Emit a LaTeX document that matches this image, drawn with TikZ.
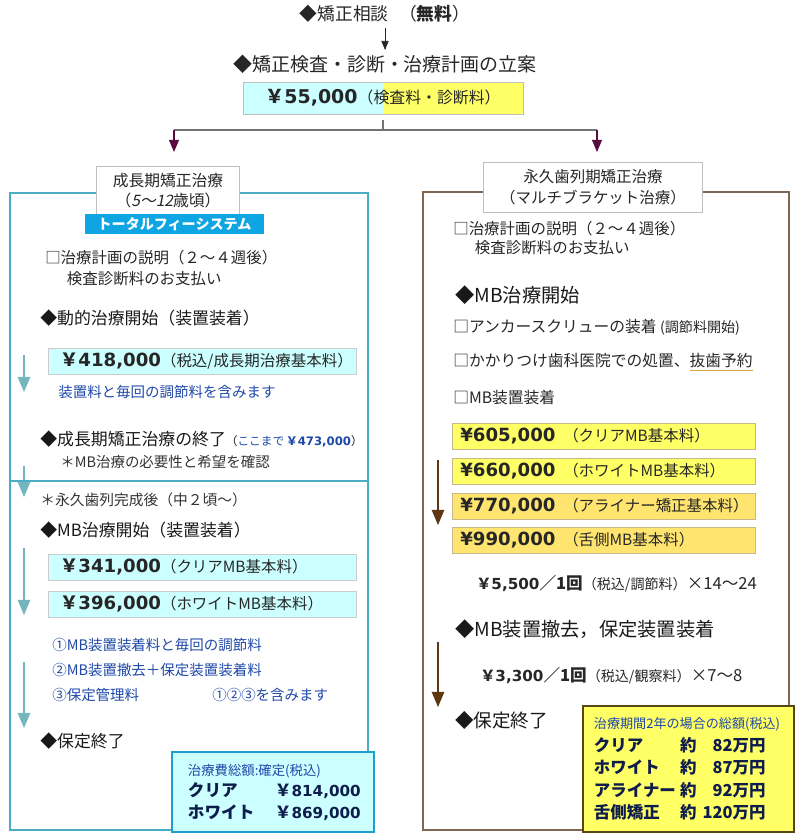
\documentclass[tikz,border=0pt]{standalone}
\usepackage{fontspec}
\setmainfont{Noto Sans CJK JP}[
    ItalicFont={Noto Sans CJK JP},
    ItalicFeatures={FakeSlant=0.2}
]
\newfontfamily\numfont{DejaVu Sans}
\usetikzlibrary{arrows}

\definecolor{feecyan}{HTML}{CCFFFF}
\definecolor{feeyellow}{HTML}{FFFF66}
\definecolor{feegold}{HTML}{FFE570}
\definecolor{skybar}{HTML}{0FA5E2}
\definecolor{leftframe}{HTML}{4BACC6}
\definecolor{leftarrow}{HTML}{74B5BE}
\definecolor{rightframe}{HTML}{7F6752}
\definecolor{rightarrow}{HTML}{5E3612}
\definecolor{plum}{HTML}{5A0C3E}
\definecolor{remarkblue}{HTML}{1F48A8}
\definecolor{sumnavy}{HTML}{0E1D4C}
\definecolor{sumedge}{HTML}{1E9FD0}
\definecolor{sumbrown}{HTML}{5A4614}
\definecolor{boxedge}{HTML}{C8B98A}
\definecolor{wavy}{HTML}{D6A43A}

\newcommand{\yensign}[1][12.9]{{\bfseries\fontsize{#1}{#1}\selectfont ￥}}
\newcommand{\amount}[2][12.9]{{\numfont\bfseries\fontsize{#1}{#1}\selectfont #2}}
\newcommand{\sized}[2]{{\fontsize{#1}{#1}\selectfont #2}}

\tikzstyle{topline} = [
    font=\fontsize{13.5}{16}\selectfont,
    text=black!85
]
\tikzstyle{arrow} = [->, >=triangle 45, draw=black!85]
\tikzstyle{feebox} = [
    rectangle,
    draw=black!25,
    minimum width=7cm,
    minimum height=0.8cm,
    font=\fontsize{11.3}{12}\selectfont,
    text=black!85,
    path picture={
        \fill[feecyan] (path picture bounding box.south west) rectangle (path picture bounding box.north);
        \fill[feeyellow] (path picture bounding box.south) rectangle (path picture bounding box.north east);
    }
]
\tikzstyle{branchline} = [draw=black!55, line width=1pt]
\tikzstyle{plumarrow} = [->, >=triangle 45, draw=plum, line width=1pt]
\tikzstyle{headbox} = [
    rectangle,
    draw=black!25,
    fill=white,
    align=center,
    inner sep=0pt,
    text=black!85
]
\tikzstyle{feebar} = [
    rectangle,
    fill=skybar,
    text=white,
    font=\bfseries\fontsize{10}{12}\selectfont,
    minimum width=4.475cm,
    minimum height=0.5cm,
    inner sep=0pt
]
\tikzstyle{item} = [
    anchor=west,
    inner sep=0pt,
    align=left,
    font=\fontsize{11}{15}\selectfont,
    text=black!85
]
\tikzstyle{milestone} = [
    anchor=west,
    inner sep=0pt,
    font=\fontsize{12}{14}\selectfont,
    text=black!90
]
\tikzstyle{bigmilestone} = [milestone, font=\fontsize{13.7}{16}\selectfont]
\tikzstyle{remark} = [
    anchor=west,
    inner sep=0pt,
    font=\fontsize{10.3}{12}\selectfont,
    text=remarkblue
]
\tikzstyle{aside} = [remark, text=black!80]
\tikzstyle{cyanprice} = [
    rectangle,
    anchor=west,
    draw=black!20,
    fill=feecyan,
    minimum height=0.65cm,
    text width=7.1cm,
    inner xsep=0.3cm,
    inner ysep=0pt,
    font=\fontsize{11}{12}\selectfont,
    text=black!85
]
\tikzstyle{yellowprice} = [cyanprice, draw=boxedge, fill=feeyellow, text width=7.175cm, inner xsep=0.2cm]
\tikzstyle{goldprice} = [yellowprice, fill=feegold]
\tikzstyle{tealarrow} = [->, >=triangle 45, draw=leftarrow, line width=1.5pt]
\tikzstyle{brownarrow} = [->, >=triangle 45, draw=rightarrow, line width=1.5pt]
\tikzstyle{cyansum} = [
    rectangle,
    draw=sumedge,
    line width=1.5pt,
    fill=feecyan,
    minimum height=2cm,
    text width=4.25cm,
    inner xsep=0.4cm,
    align=left,
    font=\bfseries\fontsize{11.8}{15.3}\selectfont,
    text=sumnavy
]
\tikzstyle{yellowsum} = [
    rectangle,
    draw=sumbrown,
    line width=1.5pt,
    fill=feeyellow,
    minimum height=3.15cm,
    text width=4.725cm,
    inner xsep=0.275cm,
    align=left,
    font=\bfseries\fontsize{11.7}{16}\selectfont,
    text=sumnavy
]

\begin{document}
\begin{tikzpicture}[x=0.025cm, y=-0.025cm]
\useasboundingbox (0,0) rectangle (800,840);

% consultation and examination
\node (consult) [topline, font=\fontsize{12.6}{15}\selectfont] at (385,14)
{◆矯正相談\hspace{0.6em}（{\bfseries 無料}）};

\node (exam) [topline] at (385,64) {◆矯正検査・診断・治療計画の立案};

\node (fee) [feebox] at (383,98)
{\yensign[13.5]\amount[13.5]{55,000}（検査料・診断料）};

\draw [arrow] (consult) -- (exam);

\coordinate (split) at (383,130);
\coordinate (lbranch) at (174,130);
\coordinate (rbranch) at (597,130);
\coordinate (ltip) at (174,152);
\coordinate (rtip) at (597,152);
\draw [branchline] ([yshift=-0.15cm]fee.south) -- (split);
\draw [branchline] (lbranch) -- (rbranch);
\draw [plumarrow] (lbranch) -- (ltip);
\draw [plumarrow] (rbranch) -- (rtip);

% left column
\coordinate (lframetop) at (10,193);
\coordinate (lframebottom) at (368,830);
\draw [leftframe, line width=1.2pt] (lframetop) rectangle (lframebottom);
\draw [tealarrow] (24,466) -- (24,497);
\draw [leftframe, line width=1.2pt] (10,481) -- (368,481);

\node (lefthead) [headbox, minimum width=3.575cm, minimum height=1.225cm,
    font=\fontsize{11.2}{14.2}\selectfont] at (168,190.5)
{成長期矯正治療\\（\textit{5～12}歳頃）};
\node (totalfee) [feebar] at (174.5,224) {トータルフィーシステム};

\node (lplan) [item, font=\fontsize{11}{15}\selectfont] at (45,268.5)
{□治療計画の説明（２～４週後）\\\hspace*{1.4em}検査診断料のお支払い};

\node (lstart) [milestone] at (40,318) {◆動的治療開始（装置装着）};
\node (growthfee) [cyanprice] at (48,361.5)
{\mbox{\yensign\amount{418,000}（税込/成長期治療基本料）}};
\node (growthnote) [remark] at (58,392) {装置料と毎回の調節料を含みます};

\node (growthend) [milestone] at (40,439)
{◆成長期矯正治療の終了\sized{8.3}{（{\color{remarkblue}ここまで\,\yensign[8.3]\amount[8.3]{473,000}}）}};
\node (growthcheck) [aside] at (60,462) {＊MB治療の必要性と希望を確認};

\node (permanent) [aside, font=\fontsize{10.5}{12}\selectfont] at (40,500) {＊永久歯列完成後（中２頃～）};
\node (lmbstart) [milestone] at (40,530) {◆MB治療開始（装置装着）};
\node (lclear) [cyanprice] at (48,567) {\mbox{\yensign\amount{341,000}（クリアMB基本料）}};
\node (lwhite) [cyanprice] at (48,604) {\mbox{\yensign\amount{396,000}（ホワイトMB基本料）}};

\node (incl1) [remark] at (52,645) {①MB装置装着料と毎回の調節料};
\node (incl2) [remark] at (52,670) {②MB装置撤去＋保定装置装着料};
\node (incl3) [remark] at (52,695) {③保定管理料};
\node (inclall) [remark] at (212,695) {①②③を含みます};

\node (lretain) [milestone] at (40,741) {◆保定終了};

\draw [tealarrow] (24,355) -- (24,392);
\draw [tealarrow] (24,548) -- (24,615);
\draw [tealarrow] (24,662) -- (24,728);

\node (lsum) [cyansum] at (273,792)
{\sized{9.5}{\mdseries\color{remarkblue}治療費総額:確定(税込)}\\
\makebox[2.175cm][l]{クリア}\yensign[11.8]\amount[10.8]{814,000}\\
\makebox[2.175cm][l]{ホワイト}\yensign[11.8]\amount[10.8]{869,000}};

% right column
\coordinate (rframetop) at (423,192);
\coordinate (rframebottom) at (789,830);
\draw [rightframe, line width=1pt] (rframetop) rectangle (rframebottom);

\node (righthead) [headbox, minimum width=5.475cm, minimum height=1.25cm,
    font=\fontsize{11}{15}\selectfont] at (593,187)
{永久歯列期矯正治療\\（マルチブラケット治療）};

\node (rplan) [item, font=\fontsize{11}{13.5}\selectfont] at (453,238.5)
{□治療計画の説明（２～４週後）\\\hspace*{1.4em}検査診断料のお支払い};

\node (rmbstart) [bigmilestone] at (455,295) {◆MB治療開始};
\node (anchor) [item, font=\fontsize{11.2}{14}\selectfont] at (453,327)
{□アンカースクリューの装着 \sized{10}{(調節料開始)}};
\node (extract) [item, font=\fontsize{11.2}{14}\selectfont] at (453,362)
{□かかりつけ歯科医院での処置、{\color{wavy}\underline{\color{black!85}抜歯予約}}};
\node (rfit) [item, font=\fontsize{11.2}{14}\selectfont] at (453,398) {□MB装置装着};

\node (rclear) [yellowprice] at (452,436) {\mbox{\amount{¥605,000}\hspace{0.5em}（クリアMB基本料）}};
\node (rwhite) [yellowprice] at (452,471.5) {\mbox{\amount{¥660,000}\hspace{0.5em}（ホワイトMB基本料）}};
\node (raligner) [goldprice] at (452,506) {\mbox{\amount{¥770,000}\hspace{0.5em}（アライナー矯正基本料）}};
\node (rlingual) [goldprice] at (452,540.5) {\mbox{\amount{¥990,000}\hspace{0.5em}（舌側MB基本料）}};

\node (adjust) [item, font=\fontsize{11.8}{13}\selectfont] at (476,584)
{\yensign[10.8]\amount[10.8]{5,500}{\bfseries ／1回}\sized{10}{（税込/調節料）}×14～24};

\node (removal) [bigmilestone] at (455,629) {◆MB装置撤去，保定装置装着};
\node (observe) [item, font=\fontsize{11.8}{13}\selectfont] at (480,676)
{\yensign[10.8]\amount[10.8]{3,300}{\bfseries ／1回}\sized{10}{（税込/観察料）}×7～8};
\node (rretain) [bigmilestone, font=\fontsize{13.2}{16}\selectfont] at (455,720) {◆保定終了};

\draw [brownarrow] (438,460) -- (438,525);
\draw [brownarrow] (438,642) -- (438,707);

\node (rsum) [yellowsum] at (688.5,769)
{\sized{9.3}{\mdseries\color{remarkblue}治療期間2年の場合の総額(税込)}\\
\makebox[2.15cm][l]{クリア}約\makebox[1.725cm][r]{82万円}\\
\makebox[2.15cm][l]{ホワイト}約\makebox[1.725cm][r]{87万円}\\
\makebox[2.15cm][l]{アライナー}約\makebox[1.725cm][r]{92万円}\\
\makebox[2.15cm][l]{舌側矯正}約\makebox[1.725cm][r]{120万円}};

\end{tikzpicture}
\end{document}
